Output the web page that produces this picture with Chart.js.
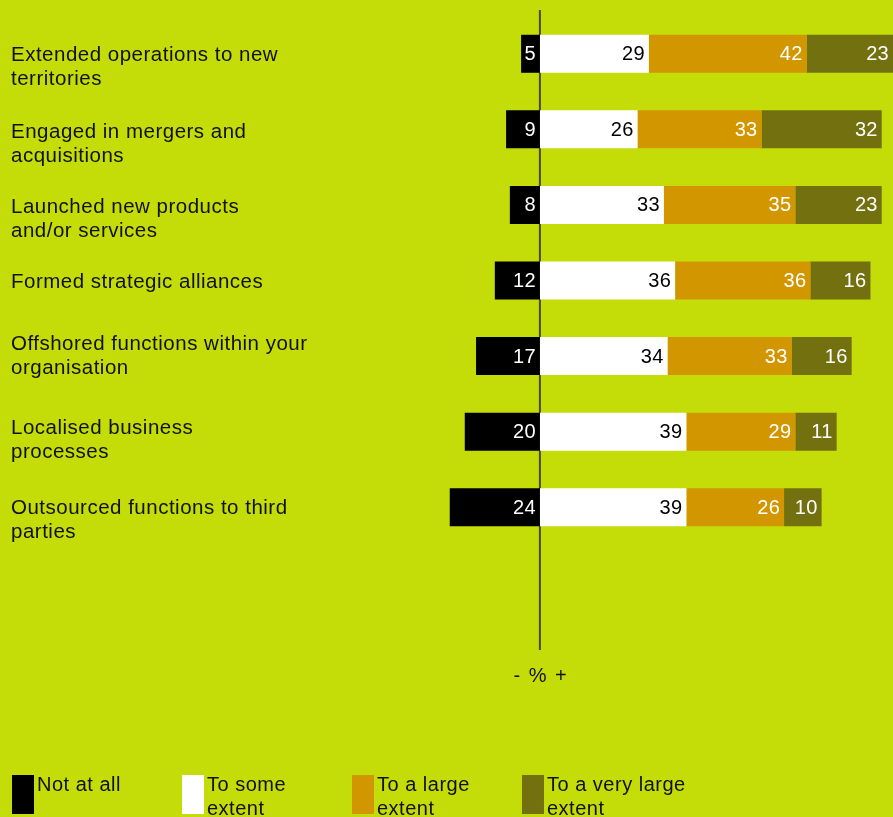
<!DOCTYPE html>
<html>
<head>
<meta charset="utf-8">
<script src="https://cdn.jsdelivr.net/npm/chart.js@4"></script>
<style>
  html, body { margin: 0; padding: 0; background: #c4dc08; }
  #wrap { width: 893px; height: 817px; position: relative; }
</style>
</head>
<body>
<div id="wrap"><canvas id="c" width="893" height="817"></canvas></div>
<script>
const categories = [
  ["Extended operations to new", "territories"],
  ["Engaged in mergers and", "acquisitions"],
  ["Launched new products", "and/or services"],
  ["Formed strategic alliances"],
  ["Offshored functions within your", "organisation"],
  ["Localised business", "processes"],
  ["Outsourced functions to third", "parties"]
];
const notAtAll = [5, 9, 8, 12, 17, 20, 24];
const toSomeExtent = [29, 26, 33, 36, 34, 39, 39];
const toALargeExtent = [42, 33, 35, 36, 33, 29, 26];
const toAVeryLargeExtent = [23, 32, 23, 16, 16, 11, 10];
const seriesNames = [["Not at all"], ["To some", "extent"], ["To a large", "extent"], ["To a very large", "extent"]];
const axisNote = "- % +";

// styling (not data)
const seriesColors = ["#000000", "#ffffff", "#d29600", "#737010"];
const labelColors = ["#ffffff", "#000000", "#ffffff", "#ffffff"];
const labelNudge = [12, 13, 13, 0, -1, 7, 12];
const FONT = "'Liberation Sans', Arial, Helvetica, sans-serif";

const categoryLabels = {
  id: 'categoryLabels',
  afterDraw(chart) {
    const ctx = chart.ctx;
    const ys = chart.scales.y;
    ctx.save();
    ctx.letterSpacing = '0.5px';
    ctx.font = "20.5px " + FONT;
    ctx.fillStyle = '#111';
    ctx.textAlign = 'left';
    ctx.textBaseline = 'middle';
    chart.data.labels.forEach((lines, i) => {
      const yc = ys.getPixelForValue(i) + labelNudge[i] + 1.5;
      const y0 = yc - (lines.length - 1) * 12;
      lines.forEach((line, j) => ctx.fillText(line, ys.left, y0 + j * 24));
    });
    ctx.restore();
  }
};

const valueLabels = {
  id: 'valueLabels',
  afterDatasetsDraw(chart) {
    const ctx = chart.ctx;
    ctx.save();
    ctx.letterSpacing = '0.3px';
    ctx.font = "20px " + FONT;
    ctx.textAlign = 'right';
    ctx.textBaseline = 'middle';
    chart.data.datasets.forEach((ds, di) => {
      const meta = chart.getDatasetMeta(di);
      meta.data.forEach((bar, i) => {
        const v = Math.abs(ds.data[i]);
        const right = Math.max(bar.x, bar.base);
        ctx.fillStyle = labelColors[di];
        ctx.fillText(String(v), right - 4, bar.y + 1);
      });
    });
    ctx.restore();
  }
};

const zeroLine = {
  id: 'zeroLine',
  beforeDatasetsDraw(chart) {
    const ctx = chart.ctx;
    const x = chart.scales.x.getPixelForValue(0);
    ctx.save();
    ctx.strokeStyle = '#4a4a12';
    ctx.lineWidth = 2;
    ctx.beginPath();
    ctx.moveTo(x, 10);
    ctx.lineTo(x, 650);
    ctx.stroke();
    ctx.fillStyle = '#111';
    ctx.letterSpacing = '1.5px';
    ctx.font = "20px " + FONT;
    ctx.textAlign = 'center';
    ctx.textBaseline = 'middle';
    ctx.fillText(axisNote, x + 1, 676);
    ctx.restore();
  }
};

const customLegend = {
  id: 'customLegend',
  afterDraw(chart) {
    const ctx = chart.ctx;
    ctx.save();
    ctx.letterSpacing = '0.5px';
    ctx.font = "20px " + FONT;
    ctx.textAlign = 'left';
    ctx.textBaseline = 'alphabetic';
    chart.data.datasets.forEach((ds, i) => {
      const x0 = 12 + i * 170;
      ctx.fillStyle = ds.backgroundColor;
      ctx.fillRect(x0, 775, 22, 39);
      ctx.fillStyle = '#111';
      seriesNames[i].forEach((line, j) => {
        ctx.fillText(line, x0 + 25, 791 + j * 24);
      });
    });
    ctx.restore();
  }
};

new Chart(document.getElementById('c'), {
  type: 'bar',
  data: {
    labels: categories,
    datasets: [
      { label: "Not at all", data: notAtAll.map(v => -v), backgroundColor: seriesColors[0] },
      { label: "To some extent", data: toSomeExtent, backgroundColor: seriesColors[1] },
      { label: "To a large extent", data: toALargeExtent, backgroundColor: seriesColors[2] },
      { label: "To a very large extent", data: toAVeryLargeExtent, backgroundColor: seriesColors[3] }
    ]
  },
  options: {
    indexAxis: 'y',
    responsive: false,
    animation: false,
    layout: { padding: { left: 11, right: 0, top: 16, bottom: 272 } },
    datasets: { bar: { categoryPercentage: 1, barPercentage: 0.503, borderWidth: 0 } },
    plugins: { legend: { display: false }, tooltip: { enabled: false } },
    scales: {
      x: {
        stacked: true, min: -41.5, max: 94, display: false
      },
      y: {
        stacked: true,
        grid: { display: false, drawTicks: false },
        border: { display: false },
        afterFit(scale) {
          scale.width = 373;
          scale.paddingTop = 0;
          scale.paddingBottom = 0;
        },
        ticks: { display: false }
      }
    }
  },
  plugins: [zeroLine, valueLabels, categoryLabels, customLegend]
});
</script>
</body>
</html>
